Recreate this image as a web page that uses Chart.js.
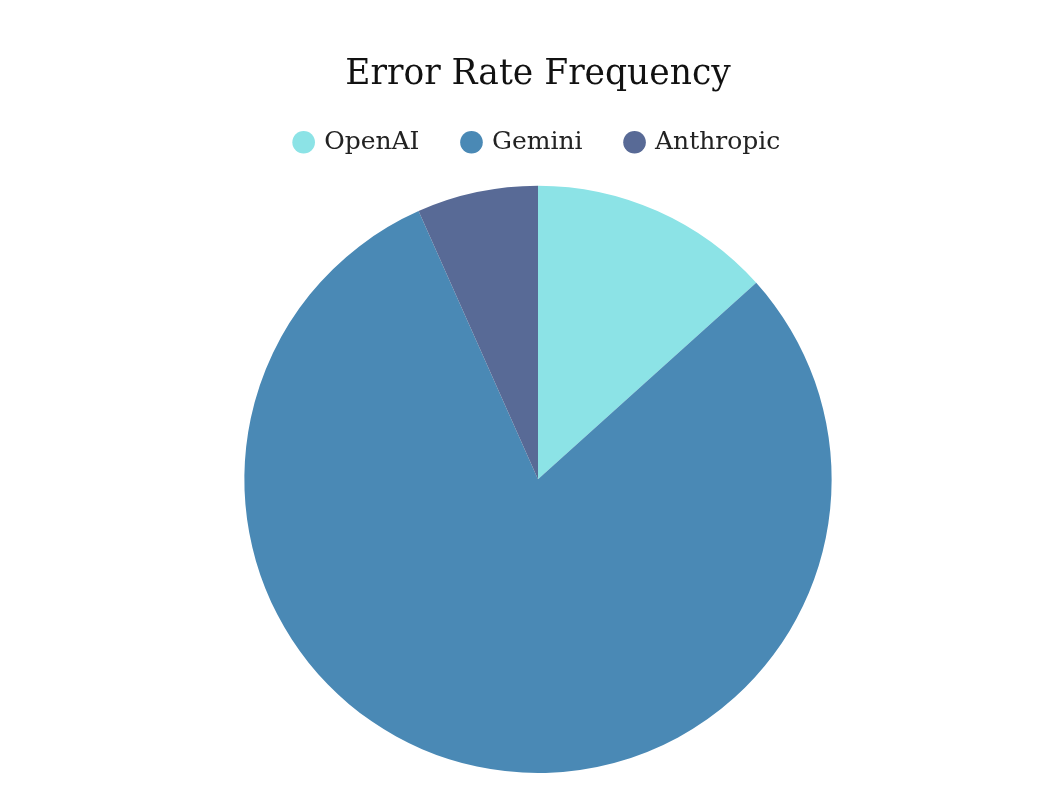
<!DOCTYPE html>
<html>
<head>
<meta charset="utf-8">
<script src="https://cdn.jsdelivr.net/npm/chart.js@4"></script>
<style>
  html, body { margin: 0; padding: 0; background: #fff; }
  #wrap { width: 1046px; height: 810px; }
</style>
</head>
<body>
<div id="wrap"><canvas id="errorPie"></canvas></div>
<script>
// Error rate frequency per provider
const providers = ['OpenAI', 'Gemini', 'Anthropic'];
const errorCounts = [2, 12, 1];
const sliceColors = ['#8ce3e6', '#4a89b5', '#586a96'];

// extra room between the legend and the pie
const legendGap = {
	id: 'legendGap',
	beforeInit(chart) {
		const origFit = chart.legend.fit;
		chart.legend.fit = function fit() {
			origFit.bind(chart.legend)();
			this.height += 21;
		};
	},
};

const ctx = document.getElementById('errorPie').getContext('2d');
new Chart(ctx, {
	type: 'pie',
	data: {
		labels: providers,
		datasets: [
			{
				data: errorCounts,
				backgroundColor: sliceColors,
				borderWidth: 0,
			},
		],
	},
	options: {
		responsive: true,
		maintainAspectRatio: false,
		animation: false,
		layout: { padding: { left: 30, bottom: 37 } },
		plugins: {
			title: {
				display: true,
				text: 'Error Rate Frequency',
				color: '#111',
				font: { family: '"DejaVu Serif", serif', size: 34.5, weight: 'normal', lineHeight: 0.6 },
				padding: { top: 65, bottom: 0 },
			},
			legend: {
				position: 'top',
				labels: {
					usePointStyle: true,
					pointStyle: 'circle',
					boxWidth: 16,
					boxHeight: 16,
					padding: 44,
					color: '#222',
					font: { family: '"DejaVu Serif", serif', size: 25 },
				},
			},
			tooltip: { enabled: false },
		},
	},
	plugins: [legendGap],
});
</script>
</body>
</html>
